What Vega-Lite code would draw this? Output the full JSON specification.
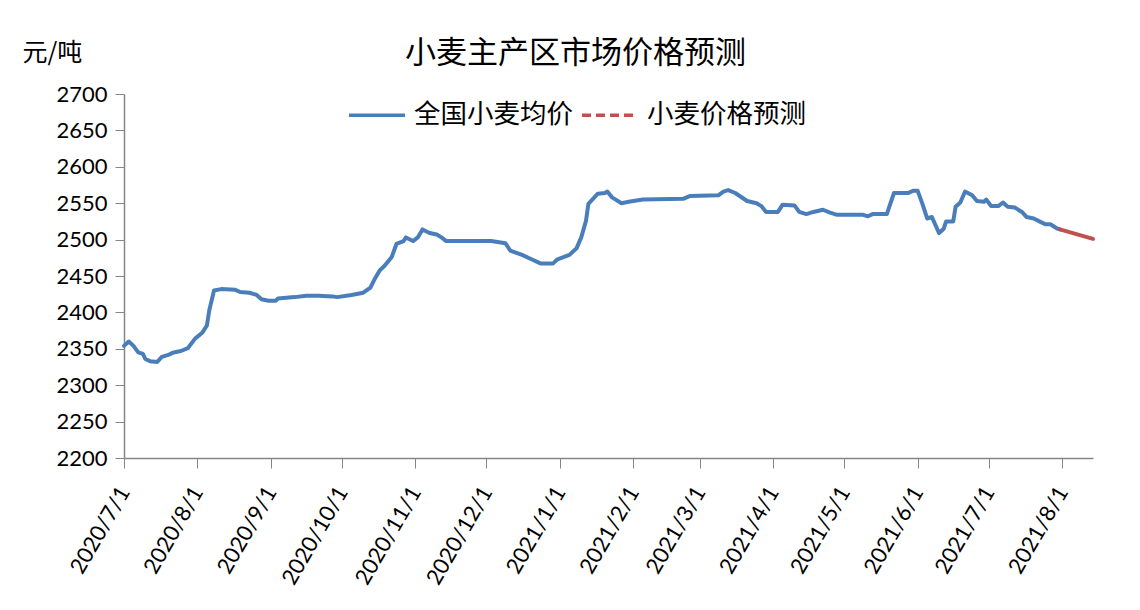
{
  "$schema": "https://vega.github.io/schema/vega-lite/v6.json",
  "width": 969,
  "height": 364,
  "padding": {"left": 22, "top": 37, "right": 10, "bottom": 5},
  "background": "white",
  "title": {"text": "小麦主产区市场价格预测", "font": "Noto Sans CJK SC", "fontSize": 31, "fontWeight": "normal", "color": "#000000", "anchor": "middle", "frame": "group", "dx": -33, "baseline": "bottom", "offset": -60.5},
  "config": {"view": {"stroke": null}},
  "data": {"values": [
    {"date": "2020-07-01", "price": 2354, "series": "全国小麦均价"},
    {"date": "2020-07-03", "price": 2360, "series": "全国小麦均价"},
    {"date": "2020-07-05", "price": 2354, "series": "全国小麦均价"},
    {"date": "2020-07-07", "price": 2345, "series": "全国小麦均价"},
    {"date": "2020-07-09", "price": 2343, "series": "全国小麦均价"},
    {"date": "2020-07-10", "price": 2336, "series": "全国小麦均价"},
    {"date": "2020-07-12", "price": 2333, "series": "全国小麦均价"},
    {"date": "2020-07-15", "price": 2332, "series": "全国小麦均价"},
    {"date": "2020-07-17", "price": 2339, "series": "全国小麦均价"},
    {"date": "2020-07-20", "price": 2342, "series": "全国小麦均价"},
    {"date": "2020-07-22", "price": 2345, "series": "全国小麦均价"},
    {"date": "2020-07-25", "price": 2347, "series": "全国小麦均价"},
    {"date": "2020-07-28", "price": 2351, "series": "全国小麦均价"},
    {"date": "2020-07-31", "price": 2364, "series": "全国小麦均价"},
    {"date": "2020-08-03", "price": 2372, "series": "全国小麦均价"},
    {"date": "2020-08-05", "price": 2382, "series": "全国小麦均价"},
    {"date": "2020-08-06", "price": 2403, "series": "全国小麦均价"},
    {"date": "2020-08-08", "price": 2430, "series": "全国小麦均价"},
    {"date": "2020-08-11", "price": 2432, "series": "全国小麦均价"},
    {"date": "2020-08-17", "price": 2431, "series": "全国小麦均价"},
    {"date": "2020-08-19", "price": 2428, "series": "全国小麦均价"},
    {"date": "2020-08-23", "price": 2427, "series": "全国小麦均价"},
    {"date": "2020-08-26", "price": 2424, "series": "全国小麦均价"},
    {"date": "2020-08-28", "price": 2418, "series": "全国小麦均价"},
    {"date": "2020-08-31", "price": 2416, "series": "全国小麦均价"},
    {"date": "2020-09-03", "price": 2416, "series": "全国小麦均价"},
    {"date": "2020-09-04", "price": 2419, "series": "全国小麦均价"},
    {"date": "2020-09-11", "price": 2421, "series": "全国小麦均价"},
    {"date": "2020-09-16", "price": 2423, "series": "全国小麦均价"},
    {"date": "2020-09-21", "price": 2423, "series": "全国小麦均价"},
    {"date": "2020-09-27", "price": 2422, "series": "全国小麦均价"},
    {"date": "2020-09-29", "price": 2421, "series": "全国小麦均价"},
    {"date": "2020-10-05", "price": 2424, "series": "全国小麦均价"},
    {"date": "2020-10-10", "price": 2427, "series": "全国小麦均价"},
    {"date": "2020-10-13", "price": 2434, "series": "全国小麦均价"},
    {"date": "2020-10-15", "price": 2447, "series": "全国小麦均价"},
    {"date": "2020-10-17", "price": 2458, "series": "全国小麦均价"},
    {"date": "2020-10-19", "price": 2464, "series": "全国小麦均价"},
    {"date": "2020-10-22", "price": 2476, "series": "全国小麦均价"},
    {"date": "2020-10-24", "price": 2494, "series": "全国小麦均价"},
    {"date": "2020-10-27", "price": 2498, "series": "全国小麦均价"},
    {"date": "2020-10-28", "price": 2503, "series": "全国小麦均价"},
    {"date": "2020-10-31", "price": 2498, "series": "全国小麦均价"},
    {"date": "2020-11-02", "price": 2503, "series": "全国小麦均价"},
    {"date": "2020-11-04", "price": 2514, "series": "全国小麦均价"},
    {"date": "2020-11-07", "price": 2509, "series": "全国小麦均价"},
    {"date": "2020-11-10", "price": 2507, "series": "全国小麦均价"},
    {"date": "2020-11-12", "price": 2503, "series": "全国小麦均价"},
    {"date": "2020-11-14", "price": 2498, "series": "全国小麦均价"},
    {"date": "2020-12-03", "price": 2498, "series": "全国小麦均价"},
    {"date": "2020-12-09", "price": 2495, "series": "全国小麦均价"},
    {"date": "2020-12-11", "price": 2485, "series": "全国小麦均价"},
    {"date": "2020-12-16", "price": 2479, "series": "全国小麦均价"},
    {"date": "2020-12-20", "price": 2473, "series": "全国小麦均价"},
    {"date": "2020-12-24", "price": 2467, "series": "全国小麦均价"},
    {"date": "2020-12-29", "price": 2467, "series": "全国小麦均价"},
    {"date": "2020-12-31", "price": 2473, "series": "全国小麦均价"},
    {"date": "2021-01-05", "price": 2479, "series": "全国小麦均价"},
    {"date": "2021-01-08", "price": 2488, "series": "全国小麦均价"},
    {"date": "2021-01-10", "price": 2503, "series": "全国小麦均价"},
    {"date": "2021-01-12", "price": 2526, "series": "全国小麦均价"},
    {"date": "2021-01-13", "price": 2549, "series": "全国小麦均价"},
    {"date": "2021-01-17", "price": 2563, "series": "全国小麦均价"},
    {"date": "2021-01-20", "price": 2564, "series": "全国小麦均价"},
    {"date": "2021-01-21", "price": 2566, "series": "全国小麦均价"},
    {"date": "2021-01-23", "price": 2558, "series": "全国小麦均价"},
    {"date": "2021-01-27", "price": 2550, "series": "全国小麦均价"},
    {"date": "2021-01-30", "price": 2552, "series": "全国小麦均价"},
    {"date": "2021-02-05", "price": 2555, "series": "全国小麦均价"},
    {"date": "2021-02-22", "price": 2556, "series": "全国小麦均价"},
    {"date": "2021-02-25", "price": 2560, "series": "全国小麦均价"},
    {"date": "2021-03-09", "price": 2561, "series": "全国小麦均价"},
    {"date": "2021-03-11", "price": 2566, "series": "全国小麦均价"},
    {"date": "2021-03-13", "price": 2568, "series": "全国小麦均价"},
    {"date": "2021-03-16", "price": 2564, "series": "全国小麦均价"},
    {"date": "2021-03-21", "price": 2553, "series": "全国小麦均价"},
    {"date": "2021-03-25", "price": 2550, "series": "全国小麦均价"},
    {"date": "2021-03-27", "price": 2546, "series": "全国小麦均价"},
    {"date": "2021-03-29", "price": 2538, "series": "全国小麦均价"},
    {"date": "2021-04-03", "price": 2538, "series": "全国小麦均价"},
    {"date": "2021-04-05", "price": 2548, "series": "全国小麦均价"},
    {"date": "2021-04-10", "price": 2547, "series": "全国小麦均价"},
    {"date": "2021-04-12", "price": 2538, "series": "全国小麦均价"},
    {"date": "2021-04-15", "price": 2535, "series": "全国小麦均价"},
    {"date": "2021-04-18", "price": 2538, "series": "全国小麦均价"},
    {"date": "2021-04-22", "price": 2541, "series": "全国小麦均价"},
    {"date": "2021-04-25", "price": 2537, "series": "全国小麦均价"},
    {"date": "2021-04-28", "price": 2534, "series": "全国小麦均价"},
    {"date": "2021-05-09", "price": 2534, "series": "全国小麦均价"},
    {"date": "2021-05-11", "price": 2532, "series": "全国小麦均价"},
    {"date": "2021-05-13", "price": 2535, "series": "全国小麦均价"},
    {"date": "2021-05-19", "price": 2535, "series": "全国小麦均价"},
    {"date": "2021-05-20", "price": 2545, "series": "全国小麦均价"},
    {"date": "2021-05-22", "price": 2564, "series": "全国小麦均价"},
    {"date": "2021-05-28", "price": 2564, "series": "全国小麦均价"},
    {"date": "2021-05-30", "price": 2567, "series": "全国小麦均价"},
    {"date": "2021-06-01", "price": 2567, "series": "全国小麦均价"},
    {"date": "2021-06-03", "price": 2549, "series": "全国小麦均价"},
    {"date": "2021-06-05", "price": 2529, "series": "全国小麦均价"},
    {"date": "2021-06-07", "price": 2531, "series": "全国小麦均价"},
    {"date": "2021-06-10", "price": 2509, "series": "全国小麦均价"},
    {"date": "2021-06-12", "price": 2515, "series": "全国小麦均价"},
    {"date": "2021-06-13", "price": 2525, "series": "全国小麦均价"},
    {"date": "2021-06-16", "price": 2525, "series": "全国小麦均价"},
    {"date": "2021-06-17", "price": 2545, "series": "全国小麦均价"},
    {"date": "2021-06-19", "price": 2551, "series": "全国小麦均价"},
    {"date": "2021-06-21", "price": 2566, "series": "全国小麦均价"},
    {"date": "2021-06-24", "price": 2561, "series": "全国小麦均价"},
    {"date": "2021-06-26", "price": 2553, "series": "全国小麦均价"},
    {"date": "2021-06-29", "price": 2552, "series": "全国小麦均价"},
    {"date": "2021-06-30", "price": 2555, "series": "全国小麦均价"},
    {"date": "2021-07-02", "price": 2546, "series": "全国小麦均价"},
    {"date": "2021-07-05", "price": 2546, "series": "全国小麦均价"},
    {"date": "2021-07-07", "price": 2551, "series": "全国小麦均价"},
    {"date": "2021-07-09", "price": 2545, "series": "全国小麦均价"},
    {"date": "2021-07-12", "price": 2544, "series": "全国小麦均价"},
    {"date": "2021-07-15", "price": 2538, "series": "全国小麦均价"},
    {"date": "2021-07-17", "price": 2531, "series": "全国小麦均价"},
    {"date": "2021-07-20", "price": 2529, "series": "全国小麦均价"},
    {"date": "2021-07-23", "price": 2524, "series": "全国小麦均价"},
    {"date": "2021-07-25", "price": 2521, "series": "全国小麦均价"},
    {"date": "2021-07-27", "price": 2521, "series": "全国小麦均价"},
    {"date": "2021-07-30", "price": 2515, "series": "全国小麦均价"},
    {"date": "2021-07-31", "price": 2514, "series": "全国小麦均价"},
    {"date": "2021-07-31", "price": 2514, "series": "小麦价格预测"},
    {"date": "2021-08-14", "price": 2501, "series": "小麦价格预测"}
  ]},
  "mark": {"type": "line", "strokeWidth": 4, "strokeJoin": "round", "strokeCap": "round"},
  "encoding": {
    "x": {
      "field": "date", "type": "temporal",
      "scale": {"type": "utc", "domain": [{"year": 2020, "month": 7, "date": 1, "utc": true}, {"year": 2021, "month": 8, "date": 14, "utc": true}]},
      "axis": {
        "title": null,
        "values": [
          {"year": 2020, "month": 7, "date": 1, "utc": true},
          {"year": 2020, "month": 8, "date": 1, "utc": true},
          {"year": 2020, "month": 9, "date": 1, "utc": true},
          {"year": 2020, "month": 10, "date": 1, "utc": true},
          {"year": 2020, "month": 11, "date": 1, "utc": true},
          {"year": 2020, "month": 12, "date": 1, "utc": true},
          {"year": 2021, "month": 1, "date": 1, "utc": true},
          {"year": 2021, "month": 2, "date": 1, "utc": true},
          {"year": 2021, "month": 3, "date": 1, "utc": true},
          {"year": 2021, "month": 4, "date": 1, "utc": true},
          {"year": 2021, "month": 5, "date": 1, "utc": true},
          {"year": 2021, "month": 6, "date": 1, "utc": true},
          {"year": 2021, "month": 7, "date": 1, "utc": true},
          {"year": 2021, "month": 8, "date": 1, "utc": true}
        ],
        "format": "%Y/%-m/%-d",
        "labelAngle": -60,
        "labelFont": "Lato",
        "labelFontSize": 22,
        "labelColor": "#000000",
        "labelPadding": 20,
        "labelDx": 10,
        "labelDy": 0,
        "labelOverlap": false,
        "labelFlush": false,
        "tickSize": 10,
        "tickColor": "#868686",
        "domainColor": "#868686",
        "domainWidth": 1.5,
        "grid": false
      }
    },
    "y": {
      "field": "price", "type": "quantitative",
      "scale": {"domain": [2200, 2700], "nice": false, "zero": false},
      "axis": {
        "title": "元/吨",
        "titleAngle": 0,
        "titleX": -102,
        "titleY": -42,
        "titleAlign": "left",
        "titleBaseline": "middle",
        "titleFont": "Noto Sans CJK SC",
        "titleFontSize": 25,
        "titleFontWeight": "normal",
        "titleColor": "#000000",
        "values": [2200, 2250, 2300, 2350, 2400, 2450, 2500, 2550, 2600, 2650, 2700],
        "format": "d",
        "labelFont": "Lato",
        "labelFontSize": 22,
        "labelColor": "#000000",
        "labelPadding": 8,
        "tickSize": 9,
        "tickColor": "#868686",
        "domainColor": "#868686",
        "domainWidth": 1.5,
        "grid": false
      }
    },
    "color": {
      "field": "series", "type": "nominal",
      "scale": {"domain": ["全国小麦均价", "小麦价格预测"], "range": ["#4A7EBB", "#C0504D"]},
      "legend": {
        "title": null,
        "orient": "none",
        "legendX": 223,
        "legendY": -9,
        "direction": "horizontal",
        "symbolType": "stroke",
        "symbolSize": 3136,
        "symbolStrokeWidth": 3.5,
        "labelFont": "Noto Sans CJK SC",
        "labelFontSize": 26.5,
        "labelColor": "#000000",
        "labelOffset": 7,
        "columnPadding": 2,
        "padding": 0,
        "encode": {"symbols": {"update": {"strokeDash": {"signal": "datum.value === '小麦价格预测' ? [9, 5] : [1, 0]"}}}}
      }
    }
  }
}
